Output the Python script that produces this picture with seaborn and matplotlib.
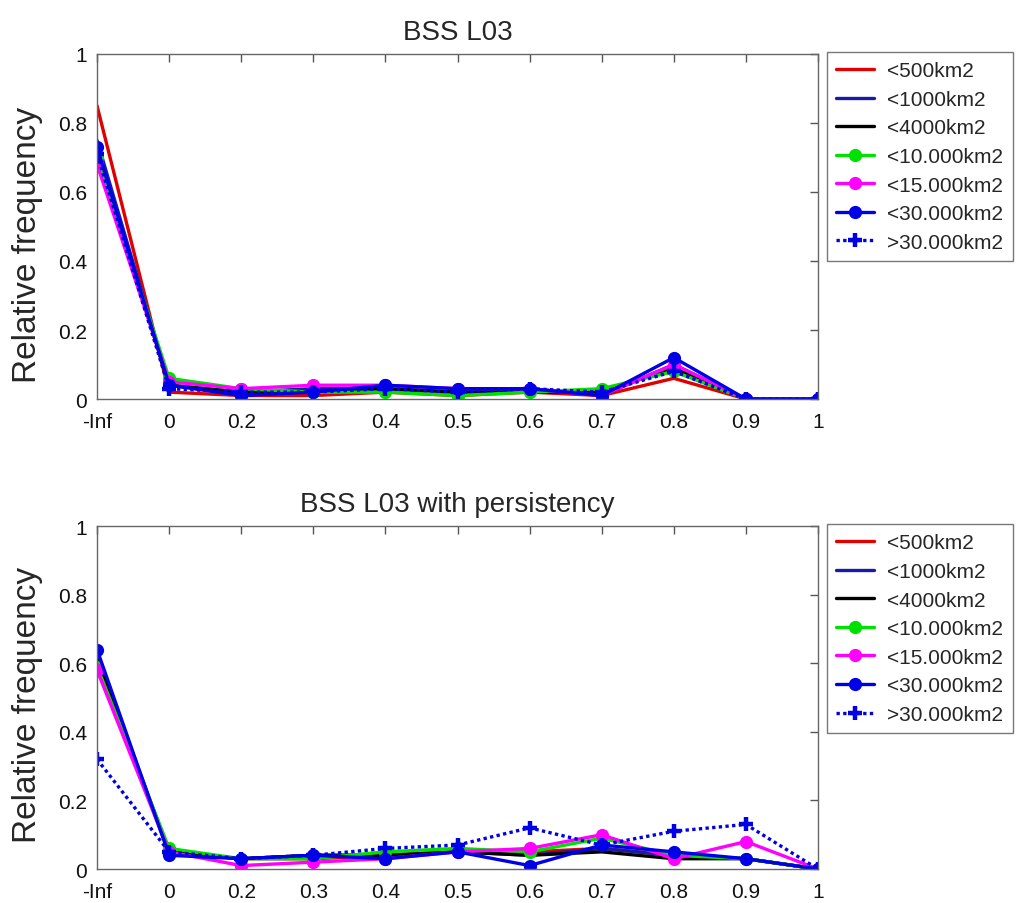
import numpy as np
import pandas as pd
import matplotlib
matplotlib.use("Agg")
import matplotlib.pyplot as plt
import seaborn as sns

sns.set_style("white")
plt.rcParams["font.family"] = ["Liberation Sans", "DejaVu Sans"]

categories = ["-Inf", "0", "0.2", "0.3", "0.4", "0.5", "0.6", "0.7", "0.8", "0.9", "1"]
series_names = ["<500km2", "<1000km2", "<4000km2", "<10.000km2",
                "<15.000km2", "<30.000km2", ">30.000km2"]

# BSS L03
top_500 = [0.85, 0.02, 0.01, 0.01, 0.02, 0.01, 0.02, 0.01, 0.06, 0.00, 0.00]
top_1000 = [0.75, 0.04, 0.02, 0.03, 0.03, 0.02, 0.03, 0.01, 0.10, 0.00, 0.00]
top_4000 = [0.72, 0.04, 0.02, 0.02, 0.03, 0.02, 0.02, 0.02, 0.09, 0.00, 0.00]
top_10000 = [0.70, 0.06, 0.03, 0.02, 0.02, 0.01, 0.02, 0.03, 0.08, 0.00, 0.00]
top_15000 = [0.68, 0.05, 0.03, 0.04, 0.04, 0.03, 0.03, 0.01, 0.10, 0.00, 0.00]
top_30000 = [0.73, 0.04, 0.01, 0.02, 0.04, 0.03, 0.03, 0.01, 0.12, 0.00, 0.00]
top_over = [0.71, 0.03, 0.02, 0.02, 0.03, 0.02, 0.03, 0.02, 0.08, 0.00, 0.00]

# BSS L03 with persistency
bot_500 = [0.60, 0.05, 0.03, 0.03, 0.04, 0.05, 0.05, 0.06, 0.04, 0.03, 0.00]
bot_1000 = [0.62, 0.05, 0.03, 0.04, 0.04, 0.05, 0.04, 0.06, 0.04, 0.03, 0.00]
bot_4000 = [0.61, 0.05, 0.03, 0.04, 0.04, 0.05, 0.04, 0.05, 0.03, 0.03, 0.00]
bot_10000 = [0.59, 0.06, 0.03, 0.03, 0.05, 0.06, 0.05, 0.09, 0.04, 0.03, 0.00]
bot_15000 = [0.58, 0.05, 0.01, 0.02, 0.03, 0.05, 0.06, 0.10, 0.03, 0.08, 0.00]
bot_30000 = [0.64, 0.04, 0.03, 0.04, 0.03, 0.05, 0.01, 0.07, 0.05, 0.03, 0.00]
bot_over = [0.32, 0.05, 0.03, 0.04, 0.06, 0.07, 0.12, 0.07, 0.11, 0.13, 0.00]

top_series = [top_500, top_1000, top_4000, top_10000, top_15000, top_30000, top_over]
bot_series = [bot_500, bot_1000, bot_4000, bot_10000, bot_15000, bot_30000, bot_over]

colors = ["#e00000", "#1a1aa8", "#000000", "#00e000", "#ff00ff", "#0000e6", "#0000e6"]
linestyles = ["-", "-", "-", "-", "-", "-", (0, (1, 1))]
markers = [None, None, None, "o", "o", "o", "+"]

fig = plt.figure(figsize=(10.16, 9.04), dpi=100)
ax_top = fig.add_axes([0.0955, 0.5575, 0.7096, 0.3817])
ax_bot = fig.add_axes([0.0955, 0.0376, 0.7096, 0.3794])

positions = np.arange(len(categories))


def draw(ax, series, title, label_y):
    for name, vals, c, ls, mk in zip(series_names, series, colors, linestyles, markers):
        df = pd.DataFrame({"x": positions, "y": vals})
        if mk == "+":
            mkw = dict(markersize=10, markeredgewidth=3.2)
        else:
            mkw = dict(markersize=8, markeredgewidth=1.5)
        sns.lineplot(data=df, x="x", y="y", ax=ax, color=c, linestyle=ls,
                     marker=mk, markeredgecolor=c, linewidth=2.4,
                     label=name, **mkw)
    ax.set_xlim(0, len(categories) - 1)
    ax.set_ylim(0, 1)
    ax.set_xticks(positions)
    ax.set_xticklabels(categories)
    ax.set_yticks([0, 0.2, 0.4, 0.6, 0.8, 1])
    ax.set_yticklabels(["0", "0.2", "0.4", "0.6", "0.8", "1"])
    ax.tick_params(direction="in", length=6, width=1, top=True, right=True,
                   labelsize=15, color="#555555", labelcolor="#111111")
    ax.tick_params(axis="x", pad=9)
    ax.tick_params(axis="y", pad=7)
    for s in ax.spines.values():
        s.set_color("#666666")
        s.set_linewidth(1.0)
        s.set_visible(True)
    ax.set_xlabel("")
    ax.set_ylabel("Relative frequency", fontsize=24)
    ax.yaxis.set_label_coords(-0.075, label_y)
    ax.set_title(title, fontsize=20, pad=11)
    leg = ax.legend(loc="upper left", bbox_to_anchor=(1.0125, 1.006),
                    fontsize=15, frameon=True, fancybox=False,
                    handlelength=1.8, handletextpad=0.65, labelspacing=0.46,
                    borderpad=0.45, borderaxespad=0.0)
    leg.get_frame().set_edgecolor("#555555")
    leg.get_frame().set_linewidth(1.0)


draw(ax_top, top_series, "BSS L03", 0.45)
draw(ax_bot, bot_series, "BSS L03 with persistency", 0.48)

fig.savefig("out.png", dpi=100, facecolor="white")
